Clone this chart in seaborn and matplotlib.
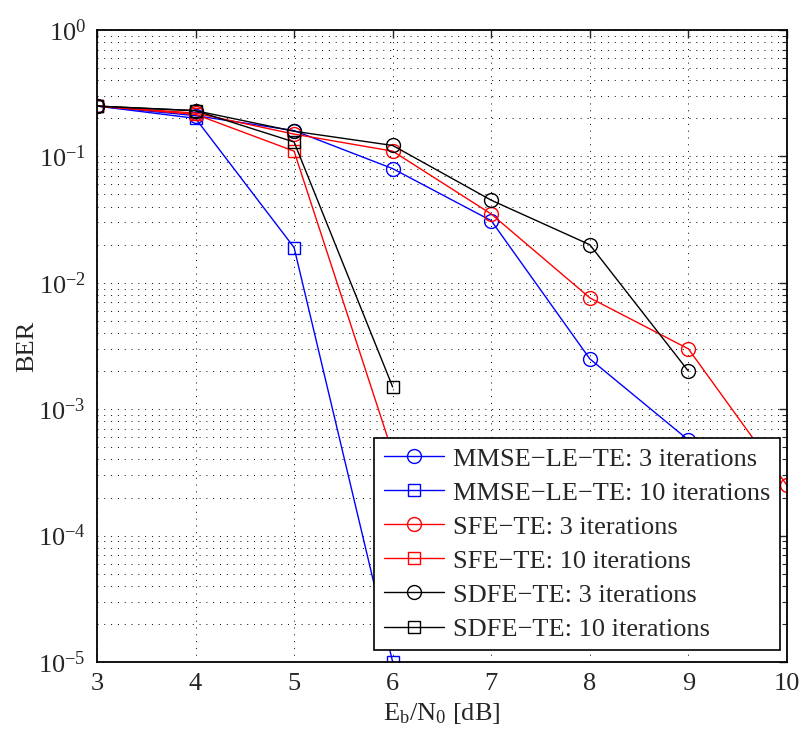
import numpy as np
import pandas as pd
import seaborn as sns
import matplotlib.pyplot as plt
from matplotlib.ticker import LogLocator, NullFormatter

# Eb/N0 in dB
ebn0 = [3, 4, 5, 6, 7, 8, 9, 10]

# BER values
mmse_3 = [0.25, 0.21, 0.16, 0.08, 0.031, 0.0025, 0.00057]
mmse_10 = [0.25, 0.20, 0.019, 1.0e-5]
sfe_3 = [0.25, 0.22, 0.15, 0.11, 0.035, 0.0076, 0.003, 0.00025]
sfe_10 = [0.25, 0.215, 0.11, 0.00045]
sdfe_3 = [0.25, 0.23, 0.158, 0.122, 0.045, 0.020, 0.002]
sdfe_10 = [0.25, 0.23, 0.13, 0.0015]

series = [
    ("MMSE\u2212LE\u2212TE: 3 iterations", mmse_3, "blue", "o"),
    ("MMSE\u2212LE\u2212TE: 10 iterations", mmse_10, "blue", "s"),
    ("SFE\u2212TE: 3 iterations", sfe_3, "red", "o"),
    ("SFE\u2212TE: 10 iterations", sfe_10, "red", "s"),
    ("SDFE\u2212TE: 3 iterations", sdfe_3, "black", "o"),
    ("SDFE\u2212TE: 10 iterations", sdfe_10, "black", "s"),
]

sns.set_style("white")
plt.rcParams['font.family'] = ['Liberation Serif', 'DejaVu Serif']
plt.rcParams['mathtext.fontset'] = 'custom'
plt.rcParams['mathtext.rm'] = 'Liberation Serif'
plt.rcParams['mathtext.it'] = 'Liberation Serif:italic'
plt.rcParams['font.size'] = 19

fig = plt.figure(figsize=(8.01, 7.31), dpi=100)
ax = fig.add_axes([0.121, 0.0944, 0.8615, 0.8646])

for label, vals, color, marker in series:
    df = pd.DataFrame({"x": ebn0[:len(vals)], "y": vals})
    sns.lineplot(data=df, x="x", y="y", ax=ax, color=color, marker=marker,
                 markersize=10 if marker == "o" else 8.5,
                 markerfacecolor="none", markeredgecolor=color,
                 markeredgewidth=1.0, linewidth=1.0, label=label,
                 errorbar=None, legend=False)

ax.set_yscale("log")
ax.set_xlim(3, 10)
ax.set_ylim(1e-5, 1)
ax.set_xticks(ebn0)
ax.yaxis.set_major_locator(LogLocator(base=10, numticks=10))
ax.yaxis.set_minor_locator(LogLocator(base=10, subs=np.arange(2, 10), numticks=10))
ax.yaxis.set_minor_formatter(NullFormatter())

ax.grid(True, which="major", axis="both", color="black", linestyle=(0, (1, 6)), linewidth=0.7)
ax.grid(True, which="minor", axis="y", color="black", linestyle=(0, (1, 6)), linewidth=0.7)

ax.tick_params(axis="both", which="both", direction="in", top=True, right=True,
               labelsize=19)
ax.tick_params(which="major", length=6, width=1.0, pad=8)
ax.tick_params(which="minor", length=3.5, width=0.8)
for sp in ax.spines.values():
    sp.set_linewidth(1.3)
    sp.set_color("black")

ax.set_xlabel(r"E$_\mathrm{b}$/N$_0$ [dB]", fontsize=19, labelpad=4)
ax.set_ylabel("BER", fontsize=19, labelpad=0)

leg = ax.legend(loc="lower right", bbox_to_anchor=(0.99, 0.019), borderaxespad=0,
                fontsize=19, frameon=True, fancybox=False, framealpha=1,
                edgecolor="black", handlelength=2.3, labelspacing=0.4,
                borderpad=0.35, handletextpad=0.35)
leg.get_frame().set_linewidth(1.2)

fig.savefig("out.png", dpi=100)
